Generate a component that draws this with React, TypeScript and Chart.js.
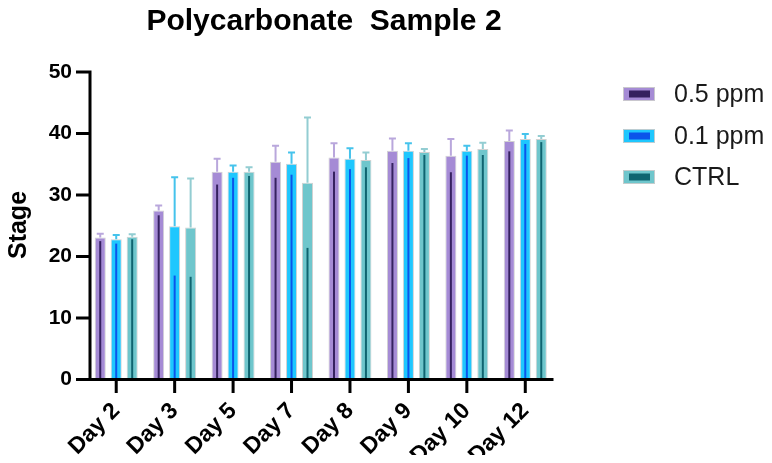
import React, { useEffect, useRef } from "react";
import { Chart, registerables } from "chart.js";

Chart.register(...registerables);

const categories = ["Day 2", "Day 3", "Day 5", "Day 7", "Day 8", "Day 9", "Day 10", "Day 12"];

const ppm05Mean = [23.1, 27.5, 33.8, 35.4, 36.1, 37.2, 36.4, 38.8];
const ppm05Sd = [0.6, 0.8, 2.1, 2.6, 2.3, 2.0, 2.7, 1.7];

const ppm01Mean = [22.8, 24.9, 33.8, 35.1, 35.9, 37.2, 37.2, 39.1];
const ppm01Sd = [0.7, 8.0, 1.0, 1.8, 1.7, 1.2, 0.8, 0.8];

const ctrlMean = [23.2, 24.7, 33.8, 32.0, 35.7, 37.0, 37.5, 39.1];
const ctrlSd = [0.4, 8.0, 0.7, 10.6, 1.2, 0.5, 1.0, 0.5];

const seriesNames = ["0.5 ppm", "0.1 ppm", "CTRL"];
const yTickValues = [0, 10, 20, 30, 40, 50];

const FONT = "'Liberation Sans', Arial, sans-serif";

const styles = [
  { fill: "#a58bd5", dark: "#35215f", cap: "#b9a7dc" },
  { fill: "#1fc7fe", dark: "#0b55ea", cap: "#45c3ec" },
  { fill: "#6fc6cc", dark: "#0f6470", cap: "#93cdd2" },
];

const sds = [ppm05Sd, ppm01Sd, ctrlSd];

// Draws axes, error bars, title, y-axis caption and legend on top of the bars.
const decorations = {
  id: "decorations",
  afterDatasetsDraw(chart: any) {
    const { ctx, chartArea } = chart;
    const xs = chart.scales.x;
    const ys = chart.scales.y;
    ctx.save();

    // error bars
    chart.data.datasets.forEach((ds: any, i: number) => {
      const meta = chart.getDatasetMeta(i);
      const st = styles[i];
      meta.data.forEach((bar: any, j: number) => {
        const mean = ds.data[j];
        const sd = sds[i][j];
        const x = bar.x;
        const yTop = ys.getPixelForValue(mean);
        const yHi = ys.getPixelForValue(mean + sd);
        const yLo = ys.getPixelForValue(mean - sd);
        const y0 = ys.getPixelForValue(0);
        // lower part, inside the bar
        ctx.strokeStyle = st.dark;
        ctx.lineWidth = 2;
        ctx.beginPath();
        ctx.moveTo(x, y0);
        ctx.lineTo(x, yLo);
        ctx.stroke();
        // upper whisker with cap
        ctx.strokeStyle = st.cap;
        ctx.beginPath();
        ctx.moveTo(x, yTop);
        ctx.lineTo(x, yHi);
        ctx.moveTo(x - 3.5, yHi);
        ctx.lineTo(x + 3.5, yHi);
        ctx.stroke();
      });
    });

    // axes
    const axisX = 82;
    const y0 = ys.getPixelForValue(0);
    const y50 = ys.getPixelForValue(50);
    ctx.strokeStyle = "#000";
    ctx.lineWidth = 3;
    ctx.beginPath();
    ctx.moveTo(axisX, y50 - 1.5);
    ctx.lineTo(axisX, y0);
    ctx.moveTo(axisX - 1.5, y0);
    ctx.lineTo(chartArea.right - 1, y0);
    yTickValues.forEach((v) => {
      const py = ys.getPixelForValue(v);
      ctx.moveTo(68, py);
      ctx.lineTo(axisX, py);
    });
    categories.forEach((_, k) => {
      const px = xs.getPixelForValue(k);
      ctx.moveTo(px, y0);
      ctx.lineTo(px, y0 + 13.5);
    });
    ctx.stroke();

    // title
    ctx.fillStyle = "#000";
    ctx.font = `bold 30px ${FONT}`;
    ctx.textAlign = "center";
    ctx.textBaseline = "alphabetic";
    ctx.fillText("Polycarbonate  Sample 2", 316, 22);

    // y caption
    ctx.save();
    ctx.translate(11, 217);
    ctx.rotate(-Math.PI / 2);
    ctx.font = `bold 25px ${FONT}`;
    ctx.textBaseline = "middle";
    ctx.fillText("Stage", 0, 0);
    ctx.restore();

    // legend
    const legendY = [86, 128, 169];
    seriesNames.forEach((name, i) => {
      const cy = legendY[i];
      const st = styles[i];
      ctx.fillStyle = st.fill;
      ctx.fillRect(615, cy - 7, 32, 14);
      ctx.strokeStyle = "rgba(205,205,205,0.9)";
      ctx.lineWidth = 1;
      ctx.strokeRect(615.5, cy - 6.5, 31, 13);
      ctx.fillStyle = st.dark;
      ctx.fillRect(621, cy - 3.5, 21, 7);
      ctx.fillStyle = "#1a1a1a";
      ctx.font = `25px ${FONT}`;
      ctx.textAlign = "left";
      ctx.textBaseline = "middle";
      ctx.fillText(name, 666, cy + 1);
    });

    ctx.restore();
  },
};

export default function App() {
  const canvasRef = useRef<HTMLCanvasElement | null>(null);

  useEffect(() => {
    const canvas = canvasRef.current;
    if (!canvas) return;
    const means = [ppm05Mean, ppm01Mean, ctrlMean];
    const chart = new Chart(canvas, {
      type: "bar",
      data: {
        labels: categories,
        datasets: means.map((m, i) => ({
          label: seriesNames[i],
          data: m,
          backgroundColor: styles[i].fill,
          borderColor: "rgba(205,205,205,0.9)",
          borderWidth: 1,
          barPercentage: 0.69,
          categoryPercentage: 0.82,
        })),
      },
      options: {
        animation: false,
        responsive: true,
        maintainAspectRatio: false,
        layout: { padding: { top: 64, right: 209.5, left: 0, bottom: 0 } },
        plugins: {
          legend: { display: false },
          title: { display: false },
          tooltip: { enabled: false },
        },
        scales: {
          x: {
            offset: true,
            grid: { display: false },
            border: { display: false },
            ticks: {
              color: "#000",
              font: { family: FONT, size: 23, weight: "bold" },
              maxRotation: 45,
              minRotation: 45,
              padding: 10,
              autoSkip: false,
            },
            afterFit(scale: any) {
              scale.height = 75.5;
            },
          },
          y: {
            min: 0,
            max: 50,
            grid: { display: false },
            border: { display: false },
            ticks: {
              stepSize: 10,
              color: "#000",
              font: { family: FONT, size: 21, weight: "bold" },
              padding: 7,
            },
            afterFit(scale: any) {
              scale.width = 79;
            },
          },
        },
      },
      plugins: [decorations],
    });
    return () => chart.destroy();
  }, []);

  return (
    <div style={{ position: "relative", width: 756, height: 447 }}>
      <canvas ref={canvasRef} />
    </div>
  );
}
